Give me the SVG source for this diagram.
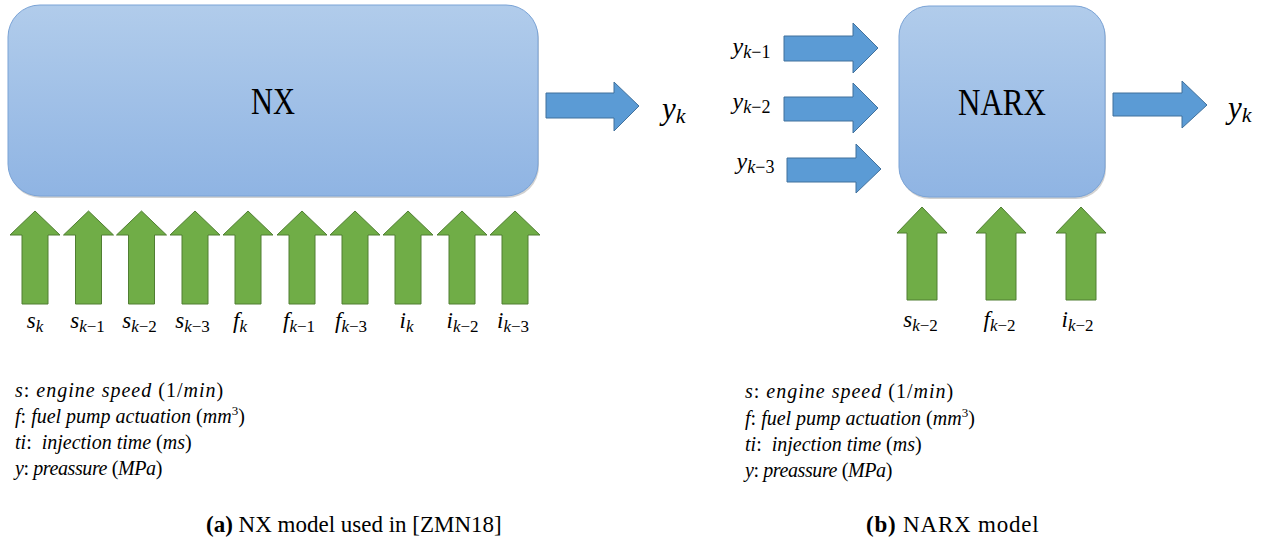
<svg xmlns="http://www.w3.org/2000/svg" xmlns:xlink="http://www.w3.org/1999/xlink" width="1279" height="544" viewBox="0 0 1279 544">
<style>
.m{font-family:"Liberation Serif",serif;font-style:italic;fill:#000}
.u{font-style:normal}
.box{fill:url(#g);stroke:#7aa3d6;stroke-width:1}
.sh{fill:#000;opacity:0.18}
.ba{fill:#5b9bd5;stroke:#41719c;stroke-width:1}
.ga{fill:#70ad47;stroke:#507e32;stroke-width:1}
.t{font-family:"Liberation Serif",serif;fill:#000}
.cap{font-family:"Liberation Serif",serif;font-size:23px;fill:#000}
.l1{letter-spacing:1px}
.l4{letter-spacing:-0.4px}
</style>
<defs>
<linearGradient id="g" x1="0" y1="0" x2="0" y2="1">
<stop offset="0" stop-color="#b1cceb"/>
<stop offset="1" stop-color="#8fb4e3"/>
</linearGradient>
<path id="upn" d="M-13,93 V24 H-25 L0,0 L25,24 H13 V93 Z"/>
<path id="upw" d="M-15,93 V26 H-25 L0,0 L25,26 H15 V93 Z"/>
</defs>

<g id="nx">
<rect class="sh" x="9" y="7" width="530" height="191" rx="32"/>
<rect class="box" x="8" y="5" width="530" height="191" rx="32"/>
<text class="t" x="273" y="114" font-size="37" text-anchor="middle" textLength="44" lengthAdjust="spacingAndGlyphs">NX</text>
</g>

<g id="narx">
<rect class="sh" x="900" y="8" width="206" height="191" rx="30"/>
<rect class="box" x="899" y="6" width="206" height="191" rx="30"/>
<text class="t" x="1002" y="115" font-size="37" text-anchor="middle" textLength="88" lengthAdjust="spacingAndGlyphs">NARX</text>
</g>

<g id="connectors">
<polygon class="ba" points="546,93 614,93 614,82 639,106 614,131 614,118 546,118"/>
<polygon class="ba" points="784,36 853,36 853,23 878,48 853,73 853,61 784,61"/>
<polygon class="ba" points="784,97 853,97 853,83 878,108 853,133 853,121 784,121"/>
<polygon class="ba" points="787,158 856,158 856,144 881,169 856,193 856,182 787,182"/>
<polygon class="ba" points="1113,93 1182,93 1182,81 1207,105 1182,128 1182,116 1113,116"/>
<g class="ga">
<use xlink:href="#upn" transform="translate(35,211)"/>
<use xlink:href="#upn" transform="translate(88.5,211)"/>
<use xlink:href="#upn" transform="translate(141.5,211)"/>
<use xlink:href="#upn" transform="translate(195,211)"/>
<use xlink:href="#upn" transform="translate(248,211)"/>
<use xlink:href="#upn" transform="translate(302,211)"/>
<use xlink:href="#upn" transform="translate(355,211)"/>
<use xlink:href="#upn" transform="translate(408,211)"/>
<use xlink:href="#upn" transform="translate(462,211)"/>
<use xlink:href="#upn" transform="translate(515,211)"/>
<use xlink:href="#upw" transform="translate(922,207)"/>
<use xlink:href="#upw" transform="translate(1001,207)"/>
<use xlink:href="#upw" transform="translate(1081,207)"/>
</g>
</g>

<g id="out-nx"><text class="m" x="662" y="119" font-size="31">y<tspan font-size="22" dy="4">k</tspan></text></g>
<g id="out-narx"><text class="m" x="1228" y="118" font-size="31">y<tspan font-size="22" dy="4">k</tspan></text></g>

<g id="in-y1"><text class="m" x="751.5" y="54" font-size="24" text-anchor="middle">y<tspan font-size="18" dy="4">k<tspan class="u">−1</tspan></tspan></text></g>
<g id="in-y2"><text class="m" x="751.5" y="109" font-size="24" text-anchor="middle">y<tspan font-size="18" dy="4">k<tspan class="u">−2</tspan></tspan></text></g>
<g id="in-y3"><text class="m" x="755.5" y="169" font-size="24" text-anchor="middle">y<tspan font-size="18" dy="4">k<tspan class="u">−3</tspan></tspan></text></g>

<g id="labels-nx" class="m" font-size="23" text-anchor="middle">
<text x="35" y="328">s<tspan font-size="17" dy="4">k</tspan></text>
<text x="87.5" y="328">s<tspan font-size="17" dy="4">k<tspan class="u">−1</tspan></tspan></text>
<text x="139.5" y="328">s<tspan font-size="17" dy="4">k<tspan class="u">−2</tspan></tspan></text>
<text x="192.5" y="328">s<tspan font-size="17" dy="4">k<tspan class="u">−3</tspan></tspan></text>
<text x="240" y="328">f<tspan font-size="17" dy="4">k</tspan></text>
<text x="299" y="328">f<tspan font-size="17" dy="4">k<tspan class="u">−1</tspan></tspan></text>
<text x="351" y="328">f<tspan font-size="17" dy="4">k<tspan class="u">−3</tspan></tspan></text>
<text x="406.5" y="328">i<tspan font-size="17" dy="4">k</tspan></text>
<text x="462.5" y="328">i<tspan font-size="17" dy="4">k<tspan class="u">−2</tspan></tspan></text>
<text x="513" y="328">i<tspan font-size="17" dy="4">k<tspan class="u">−3</tspan></tspan></text>
</g>

<g id="labels-narx" class="m" font-size="23" text-anchor="middle">
<text x="920.5" y="327">s<tspan font-size="17" dy="4">k<tspan class="u">−2</tspan></tspan></text>
<text x="999.5" y="327">f<tspan font-size="17" dy="4">k<tspan class="u">−2</tspan></tspan></text>
<text x="1077.5" y="327">i<tspan font-size="17" dy="4">k<tspan class="u">−2</tspan></tspan></text>
</g>

<g id="legend-nx" class="m" font-size="20">
<text class="l1" x="15" y="397">s<tspan class="u">:</tspan> engine speed <tspan class="u">(1/</tspan>min<tspan class="u">)</tspan></text>
<text x="15" y="423">f<tspan class="u">:</tspan> fuel pump actuation <tspan class="u">(</tspan>mm<tspan class="u" font-size="13" dy="-8">3</tspan><tspan class="u" dy="8">)</tspan></text>
<text x="15" y="449" xml:space="preserve">ti<tspan class="u">:</tspan>  injection time <tspan class="u">(</tspan>ms<tspan class="u">)</tspan></text>
<text class="l4" x="15" y="475">y<tspan class="u">:</tspan> preassure <tspan class="u">(</tspan>MPa<tspan class="u">)</tspan></text>
</g>

<g id="legend-narx" class="m" font-size="20">
<text class="l1" x="745" y="398">s<tspan class="u">:</tspan> engine speed <tspan class="u">(1/</tspan>min<tspan class="u">)</tspan></text>
<text x="745" y="425">f<tspan class="u">:</tspan> fuel pump actuation <tspan class="u">(</tspan>mm<tspan class="u" font-size="13" dy="-8">3</tspan><tspan class="u" dy="8">)</tspan></text>
<text x="745" y="451" xml:space="preserve">ti<tspan class="u">:</tspan>  injection time <tspan class="u">(</tspan>ms<tspan class="u">)</tspan></text>
<text class="l4" x="745" y="477">y<tspan class="u">:</tspan> preassure <tspan class="u">(</tspan>MPa<tspan class="u">)</tspan></text>
</g>

<g id="caption-a"><text class="cap" x="206" y="532"><tspan font-weight="bold">(a)</tspan> NX model used in [ZMN18]</text></g>
<g id="caption-b"><text class="cap" x="866" y="532" letter-spacing="0.8"><tspan font-weight="bold">(b)</tspan> NARX model</text></g>
</svg>
